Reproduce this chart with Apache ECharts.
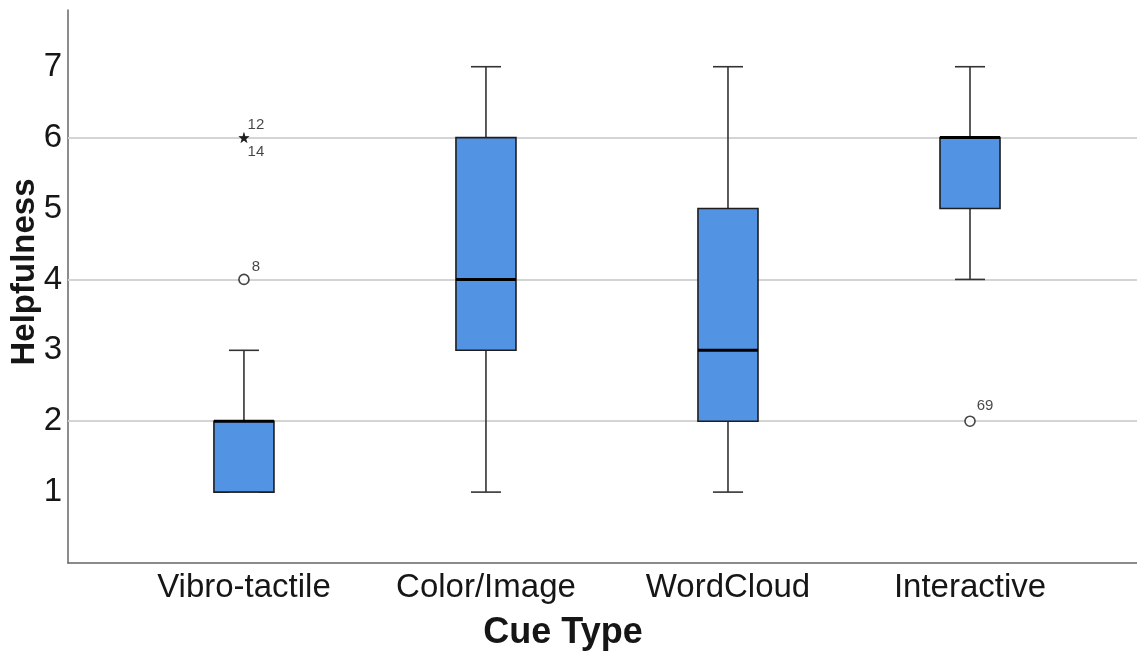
<!DOCTYPE html>
<html>
<head>
<meta charset="utf-8">
<title>Helpfulness by Cue Type</title>
<script src="https://cdn.jsdelivr.net/npm/echarts@6/dist/echarts.min.js"></script>
<style>
  html, body { margin: 0; padding: 0; background: #ffffff; }
  #chart { width: 1137px; height: 655px; }
</style>
</head>
<body>
<div id="chart"></div>
<script>
// Cue types on the horizontal axis (positions 1..4)
const categories = ['Vibro-tactile', 'Color/Image', 'WordCloud', 'Interactive'];

// Five-number summaries per cue type
const whiskerLow  = [1, 1, 1, 4];
const quartile1   = [1, 3, 2, 5];
const medians     = [2, 4, 3, 6];
const quartile3   = [2, 6, 5, 6];
const whiskerHigh = [3, 7, 7, 7];

// Individual flagged cases: category index (1-based), value, case number, kind
const outlierCategory = [1, 1, 1, 4];
const outlierValue    = [6, 6, 4, 2];
const outlierCase     = ['12', '14', '8', '69'];
const outlierKind     = ['extreme', 'extreme', 'outlier', 'outlier'];

// Y tick labels and horizontal reference lines
const yTicks = [1, 2, 3, 4, 5, 6, 7];
const gridValues = [2, 4, 6];

const FONT = 'Liberation Sans, Arial, sans-serif';
const BOX_FILL = '#5393e3';
const INK = '#161616';

const boxData = categories.map((c, i) => [
  i + 1, whiskerLow[i], quartile1[i], medians[i], quartile3[i], whiskerHigh[i]
]);

const starPath = 'path://M50,0 L61.8,35.4 L100,35.4 L69.1,57.3 L80.9,92.7 L50,70.8 L19.1,92.7 L30.9,57.3 L0,35.4 L38.2,35.4 Z';

// Label placement per case: the first of two cases sharing a point goes above, the second below
const seen = {};
const outlierData = outlierCase.map((id, i) => {
  const key = outlierCategory[i] + ':' + outlierValue[i];
  const order = seen[key] || 0;
  seen[key] = order + 1;
  const extreme = outlierKind[i] === 'extreme';
  return {
    value: [outlierCategory[i], outlierValue[i]],
    symbol: extreme ? starPath : 'circle',
    symbolSize: extreme ? 11 : 10,
    itemStyle: extreme
      ? { color: INK, borderWidth: 0 }
      : { color: '#ffffff', borderColor: INK, borderWidth: 1.6 },
    label: {
      show: true,
      formatter: id,
      position: 'inside',
      offset: order === 0
        ? [id === '69' ? 15 : 12, id === '69' ? -15 : -13]
        : [12, 14]
    }
  };
});

const chart = echarts.init(document.getElementById('chart'));

chart.setOption({
  backgroundColor: '#ffffff',
  animation: false,
  grid: { left: 68, right: 0, top: 10, bottom: 92, containLabel: false },
  xAxis: {
    type: 'value',
    min: 0.273,
    max: 4.69,
    axisLine: { show: true, onZero: false, lineStyle: { color: '#666666', width: 1.5 } },
    axisTick: { show: false },
    splitLine: { show: false },
    axisLabel: {
      customValues: [1, 2, 3, 4],
      formatter: v => categories[Math.round(v) - 1] || '',
      color: INK,
      fontFamily: FONT,
      fontSize: 33,
      margin: 8
    }
  },
  yAxis: {
    type: 'value',
    min: 0,
    max: 7.8,
    interval: 1,
    axisLine: { show: true, lineStyle: { color: '#666666', width: 1.5 } },
    axisTick: { show: false },
    splitLine: { show: false },
    axisLabel: {
      formatter: v => (yTicks.indexOf(v) >= 0 ? String(v) : ''),
      color: INK,
      fontFamily: FONT,
      fontSize: 33,
      margin: 6
    }
  },
  graphic: [
    {
      type: 'text',
      x: 25,
      y: 272,
      rotation: Math.PI / 2,
      style: {
        text: 'Helpfulness',
        font: 'bold 33px ' + FONT,
        fill: INK,
        align: 'center',
        verticalAlign: 'middle'
      }
    },
    {
      type: 'text',
      x: 563,
      y: 633,
      style: {
        text: 'Cue Type',
        font: 'bold 36px ' + FONT,
        fill: INK,
        align: 'center',
        verticalAlign: 'middle'
      }
    }
  ],
  series: [
    {
      // horizontal reference lines behind the boxes
      type: 'line',
      data: [],
      z: 1,
      markLine: {
        silent: true,
        symbol: 'none',
        z: 1,
        label: { show: false },
        lineStyle: { color: '#d4d4d4', width: 2, type: 'solid' },
        data: gridValues.map(v => ({ yAxis: v }))
      }
    },
    {
      type: 'custom',
      z: 3,
      data: boxData,
      encode: { x: 0, y: [1, 2, 3, 4, 5] },
      renderItem: function (params, api) {
        const x = api.value(0);
        const pLow = api.coord([x, api.value(1)]);
        const pQ1 = api.coord([x, api.value(2)]);
        const pMed = api.coord([x, api.value(3)]);
        const pQ3 = api.coord([x, api.value(4)]);
        const pHigh = api.coord([x, api.value(5)]);
        const boxW = api.size([0.248, 0])[0];
        const capW = api.size([0.124, 0])[0];
        const cx = pMed[0];
        const whisk = { stroke: '#333333', lineWidth: 1.6 };
        return {
          type: 'group',
          children: [
            { type: 'line', shape: { x1: cx, y1: pQ3[1], x2: cx, y2: pHigh[1] }, style: whisk },
            { type: 'line', shape: { x1: cx, y1: pQ1[1], x2: cx, y2: pLow[1] }, style: whisk },
            {
              type: 'rect',
              shape: { x: cx - boxW / 2, y: pQ3[1], width: boxW, height: pQ1[1] - pQ3[1] },
              style: { fill: BOX_FILL, stroke: '#1e1e1e', lineWidth: 1.6 }
            },
            { type: 'line', shape: { x1: cx - capW / 2, y1: pHigh[1], x2: cx + capW / 2, y2: pHigh[1] }, style: whisk },
            { type: 'line', shape: { x1: cx - capW / 2, y1: pLow[1], x2: cx + capW / 2, y2: pLow[1] }, style: whisk },
            {
              type: 'line',
              shape: { x1: cx - boxW / 2, y1: pMed[1], x2: cx + boxW / 2, y2: pMed[1] },
              style: { stroke: '#000000', lineWidth: 3 }
            }
          ]
        };
      }
    },
    {
      type: 'scatter',
      z: 4,
      data: outlierData,
      label: {
        color: INK,
        fontFamily: FONT,
        fontSize: 15
      }
    }
  ]
});
</script>
</body>
</html>
